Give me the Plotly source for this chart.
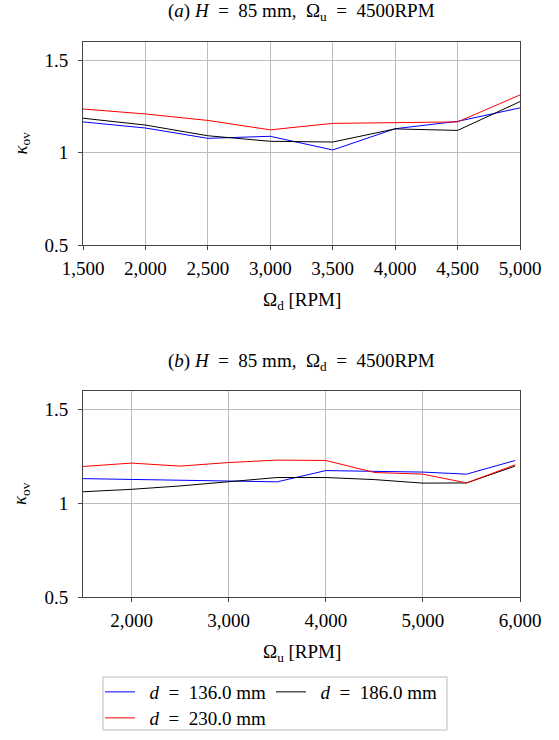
import plotly.graph_objects as go

# Data
omega_d = [1500, 2000, 2500, 3000, 3500, 4000, 4500, 5000]
top_136 = [1.167, 1.134, 1.078, 1.089, 1.015, 1.130, 1.170, 1.243]
top_186 = [1.187, 1.150, 1.092, 1.062, 1.058, 1.129, 1.121, 1.277]
top_230 = [1.237, 1.210, 1.175, 1.124, 1.159, 1.165, 1.167, 1.313]

omega_u = [1500, 2000, 2500, 3000, 3500, 4000, 4500, 5000, 5450, 5950]
bot_136 = [1.132, 1.127, 1.122, 1.116, 1.115, 1.175, 1.172, 1.167, 1.156, 1.229]
bot_186 = [1.062, 1.075, 1.093, 1.115, 1.138, 1.138, 1.127, 1.108, 1.109, 1.199]
bot_230 = [1.197, 1.215, 1.199, 1.218, 1.231, 1.229, 1.165, 1.156, 1.109, 1.206]

top_xticks = [1500, 2000, 2500, 3000, 3500, 4000, 4500, 5000]
bot_xticks = [2000, 3000, 4000, 5000, 6000]
yticks = [0.5, 1, 1.5]

NB = "\u00a0"
labels = [NB * 2 + "<i>d</i>" + NB * 2 + "=" + NB * 2 + "136.0 mm",
          NB * 2 + "<i>d</i>" + NB * 2 + "=" + NB * 2 + "186.0 mm",
          NB * 2 + "<i>d</i>" + NB * 2 + "=" + NB * 2 + "230.0 mm"]
colors = ["#0000ff", "#000000", "#ff0000"]
legend_ids = ["legend", "legend", "legend2"]

FONT = "Liberation Serif, DejaVu Serif, serif"
FS = 19

fig = go.Figure()
for ys, lab, c, lg in zip([top_136, top_186, top_230], labels, colors, legend_ids):
    fig.add_trace(go.Scatter(x=omega_d, y=ys, mode="lines", name=lab,
                             line=dict(color=c, width=1), xaxis="x", yaxis="y",
                             legend=lg, showlegend=True))
for ys, lab, c in zip([bot_136, bot_186, bot_230], labels, colors):
    fig.add_trace(go.Scatter(x=omega_u, y=ys, mode="lines", name=lab,
                             line=dict(color=c, width=1), xaxis="x2", yaxis="y2",
                             showlegend=False))

axis_common = dict(showline=True, linecolor="#444", linewidth=1, mirror=True,
                   showgrid=True, gridcolor="#bdbdbd", gridwidth=1,
                   ticks="outside", ticklen=4, tickcolor="#444",
                   tickfont=dict(size=FS, color="black", family=FONT),
                   zeroline=False)

PB = 143  # bottom margin
PH = 740 - 42 - PB  # plot height in px


def py(pixel_y):
    return (740 - PB - pixel_y) / PH


def px(pixel_x):
    return (pixel_x - 83) / 437


fig.update_layout(
    width=559, height=740,
    margin=dict(l=83, r=39, t=42, b=PB, autoexpand=False),
    plot_bgcolor="white", paper_bgcolor="white",
    font=dict(family=FONT, color="black", size=FS),
    xaxis=dict(domain=[0, 1], anchor="y", range=[1500, 5000],
               tickvals=top_xticks, tickformat=",d", ticklabelstandoff=2, **axis_common),
    yaxis=dict(domain=[py(245), 1], anchor="x", range=[0.5, 1.6],
               tickvals=yticks, ticklabelstandoff=6, **axis_common),
    xaxis2=dict(domain=[0, 1], anchor="y2", range=[1500, 6000],
                tickvals=bot_xticks, tickformat=",d", ticklabelstandoff=2, **axis_common),
    yaxis2=dict(domain=[0, py(391)], anchor="x2", range=[0.5, 1.6],
                tickvals=yticks, ticklabelstandoff=6, **axis_common),
    legend=dict(orientation="h", x=px(100), xanchor="left", y=py(673), yanchor="top",
                bgcolor="rgba(0,0,0,0)", borderwidth=0,
                font=dict(size=FS, family=FONT, color="black"),
                itemwidth=30, tracegroupgap=0),
    legend2=dict(orientation="h", x=px(100), xanchor="left", y=py(699), yanchor="top",
                 bgcolor="rgba(0,0,0,0)", borderwidth=0,
                 font=dict(size=FS, family=FONT, color="black"),
                 itemwidth=30, tracegroupgap=0),
    shapes=[dict(type="rect", xref="paper", yref="paper",
                 x0=px(103), x1=px(447), y0=py(730), y1=py(677),
                 line=dict(color="#bbbbbb", width=1), fillcolor="rgba(0,0,0,0)")],
)

eq = NB * 2 + "=" + NB * 2
ann_common = dict(xref="paper", yref="paper", showarrow=False,
                  xanchor="center", yanchor="middle")
ann = [
    dict(text="(<i>a</i>) <i>H</i>" + eq + "85 mm," + NB * 2 + "Ω<sub>u</sub>" + eq + "4500RPM",
         x=0.5, y=1.0, yshift=30, **ann_common),
    dict(text="Ω<sub>d</sub> [RPM]", x=0.5, y=py(245), yshift=-56, **ann_common),
    dict(text="<i>κ</i><sub>ov</sub>", x=0, y=(1 + py(245)) / 2,
         xshift=-62, textangle=-90, **ann_common),
    dict(text="(<i>b</i>) <i>H</i>" + eq + "85 mm," + NB * 2 + "Ω<sub>d</sub>" + eq + "4500RPM",
         x=0.5, y=py(391), yshift=29, **ann_common),
    dict(text="Ω<sub>u</sub> [RPM]", x=0.5, y=0.0, yshift=-56, **ann_common),
    dict(text="<i>κ</i><sub>ov</sub>", x=0, y=py(391) / 2,
         xshift=-62, textangle=-90, **ann_common),
]
fig.update_layout(annotations=ann)

fig.write_html("out.html", config={"displayModeBar": False},
               post_script="document.body.style.margin='0';")
